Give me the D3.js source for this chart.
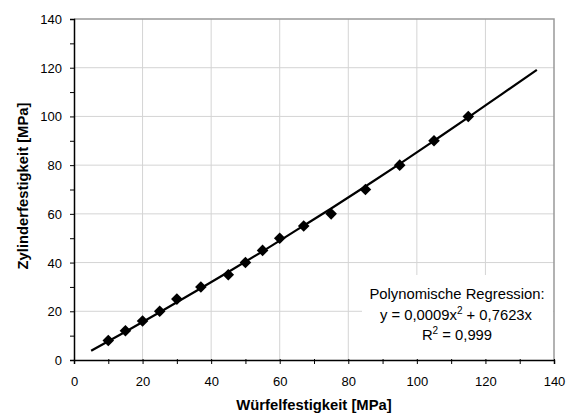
<!DOCTYPE html>
<html><head><meta charset="utf-8">
<script src="https://cdn.jsdelivr.net/npm/d3@7"></script>
<style>body{margin:0;background:#fff;} svg{display:block;font-family:"Liberation Sans",Arial,sans-serif;}</style>
</head><body>
<svg id="c" width="574" height="416"></svg>
<script>
const pointsX = [10,15,20,25,30,37,45,50,55,60,67,75,85,95,105,115];
const pointsY = [8,12,16,20,25,30,35,40,45,50,55,60,70,80,90,100];
const curveX = [5,15,25,35,45,55,65,75,85,95,105,115,125,135];
const curveY = [3.8,11.6,19.6,27.8,36.1,44.6,53.4,62.2,71.3,80.5,90.0,99.6,109.4,119.1];
const xTicks = [0,20,40,60,80,100,120,140];
const yTicks = [0,20,40,60,80,100,120,140];
const xTitle = "Würfelfestigkeit [MPa]";
const yTitle = "Zylinderfestigkeit [MPa]";
const legendLines = ["Polynomische Regression:", "y = 0,0009x", "2", " + 0,7623x", "R", "2", " = 0,999"];

const svg = d3.select("#c");
const L=74, R=554, T=19, B=360;
const x = d3.scaleLinear().domain([0,140]).range([L,R]);
const y = d3.scaleLinear().domain([0,140]).range([B,T]);

// grid
svg.append("g").selectAll("line").data(xTicks.slice(1,-1)).join("line")
  .attr("x1",d=>x(d)).attr("x2",d=>x(d)).attr("y1",T).attr("y2",B)
  .attr("stroke","#d4d4d4").attr("stroke-width",1);
svg.append("g").selectAll("line").data(yTicks.slice(1,-1)).join("line")
  .attr("y1",d=>y(d)).attr("y2",d=>y(d)).attr("x1",L).attr("x2",R)
  .attr("stroke","#d4d4d4").attr("stroke-width",1);
// top/right border
svg.append("path").attr("d",`M${L},${T}H${R}V${B}`).attr("fill","none").attr("stroke","#999").attr("stroke-width",1.5);

// legend box (white background)
svg.append("rect").attr("x",362).attr("y",275).attr("width",R-362-1).attr("height",B-275-1).attr("fill","#fff");

// curve
svg.append("path").datum(curveX.map((d,i)=>[d,curveY[i]]))
  .attr("d",d3.line().x(d=>x(d[0])).y(d=>y(d[1])).curve(d3.curveMonotoneX))
  .attr("fill","none").attr("stroke","#000").attr("stroke-width",2.2);

// markers
const s=5.8;
svg.append("g").selectAll("path").data(pointsX.map((d,i)=>[d,pointsY[i]])).join("path")
  .attr("d",d=>`M${x(d[0])},${y(d[1])-s}L${x(d[0])+s},${y(d[1])}L${x(d[0])},${y(d[1])+s}L${x(d[0])-s},${y(d[1])}Z`)
  .attr("fill","#000");

// axes
const xAxis = d3.axisBottom(x).tickValues(d3.range(0,141,10)).tickSize(4).tickFormat(d=>xTicks.includes(d)?d:"");
const gx = svg.append("g").attr("transform",`translate(0,${B})`).call(xAxis);
gx.select(".domain").attr("stroke","#000").attr("stroke-width",1.5);
gx.selectAll(".tick line").attr("stroke","#000").attr("y1",-1);
gx.selectAll(".tick text").attr("font-size",13).attr("font-family","Liberation Sans, Arial, sans-serif").attr("fill","#000").attr("dy","0").attr("y",26);

const yAxis = d3.axisLeft(y).tickValues(d3.range(0,141,10)).tickSize(4).tickFormat(d=>yTicks.includes(d)?d:"");
const gy = svg.append("g").attr("transform",`translate(${L},0)`).call(yAxis);
gy.select(".domain").attr("stroke","#000").attr("stroke-width",1.5);
gy.selectAll(".tick line").attr("stroke","#000");
gy.selectAll(".tick text").attr("font-size",13).attr("font-family","Liberation Sans, Arial, sans-serif").attr("fill","#000").attr("x",-12).attr("dy","0.35em");

// titles
svg.append("text").attr("x",314).attr("y",410).attr("text-anchor","middle")
  .attr("font-size",14.8).attr("font-weight","bold").text(xTitle);
svg.append("text").attr("transform",`translate(28,186) rotate(-90)`).attr("text-anchor","middle")
  .attr("font-size",14.8).attr("font-weight","bold").text(yTitle);

// legend text
const fs=14.8, sup=10;
svg.append("text").attr("font-size",fs).attr("text-anchor","middle").attr("x",457).attr("y",299).text(legendLines[0]);
const l2 = svg.append("text").attr("font-size",fs).attr("text-anchor","middle").attr("x",456).attr("y",320);
l2.append("tspan").text(legendLines[1]);
l2.append("tspan").attr("font-size",sup).attr("dy",-6).text(legendLines[2]);
l2.append("tspan").attr("dy",6).text(legendLines[3]);
const l3 = svg.append("text").attr("font-size",fs).attr("text-anchor","middle").attr("x",457).attr("y",340);
l3.append("tspan").text(legendLines[4]);
l3.append("tspan").attr("font-size",sup).attr("dy",-6).text(legendLines[5]);
l3.append("tspan").attr("dy",6).text(legendLines[6]);
</script>
</body></html>
